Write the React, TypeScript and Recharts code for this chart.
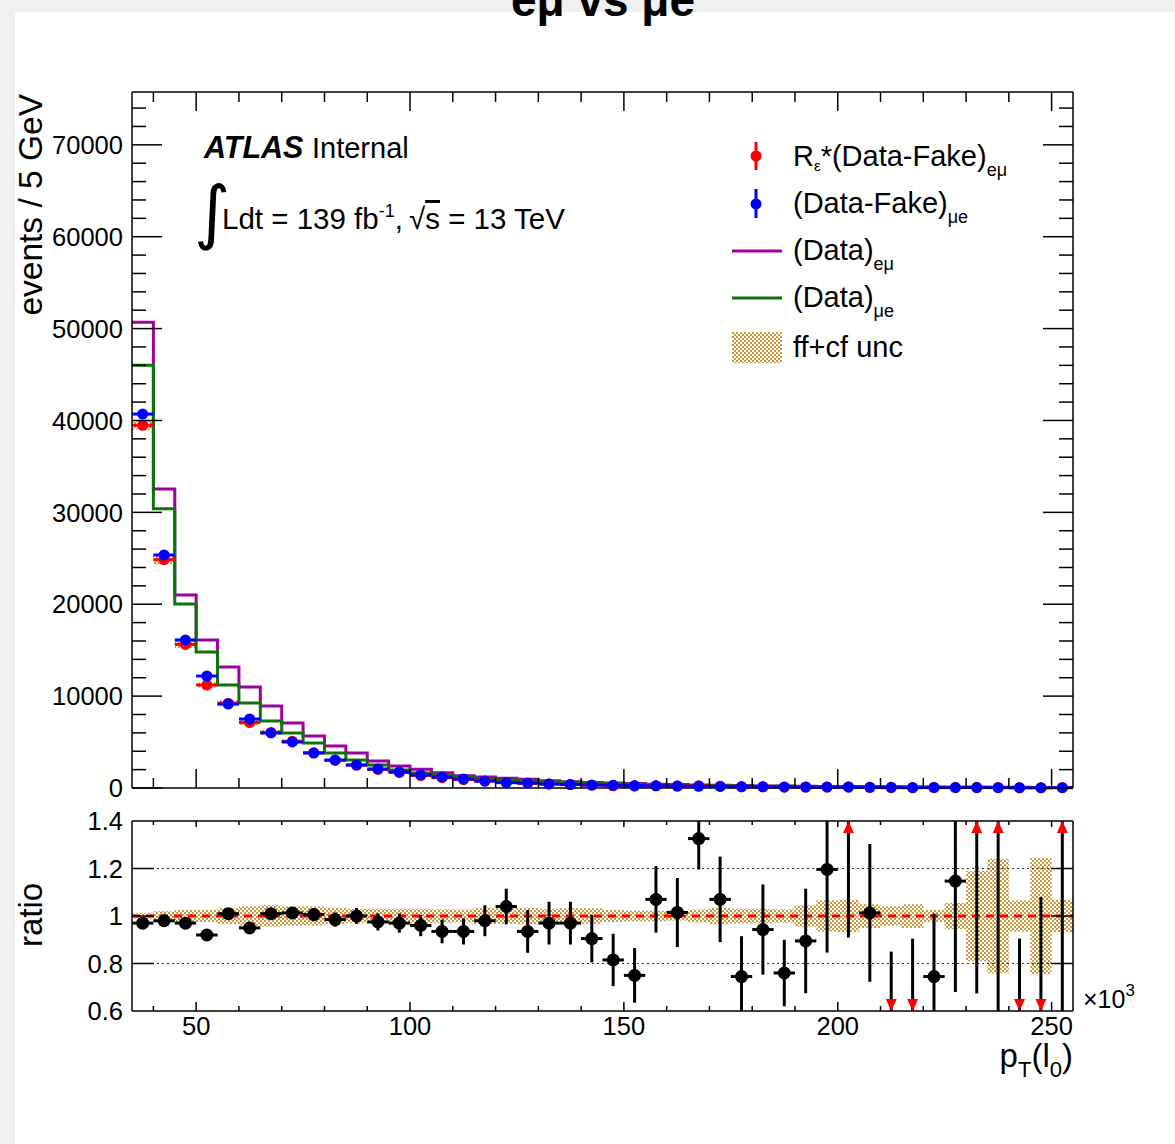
import React from "react";
import { ComposedChart, Line, Scatter, Area, XAxis, YAxis, ErrorBar, ReferenceLine } from "recharts";

// bin low edges (GeV), 5 GeV bins
const binLow = [35, 40, 45, 50, 55, 60, 65, 70, 75, 80, 85, 90, 95, 100, 105, 110, 115, 120, 125, 130, 135, 140,
  145, 150, 155, 160, 165, 170, 175, 180, 185, 190, 195, 200, 205, 210, 215, 220, 225, 230, 235, 240, 245, 250];
const BIN_W = 5;

// (Data)_emu  - purple histogram
const dataEmu = [50700, 32550, 21000, 16100, 13170, 11000, 8930, 7080, 5660, 4570,
  3810, 2940, 2400, 2030, 1670, 1340, 1200, 1050, 950, 800,
  690, 600, 540, 480, 420, 370, 330, 290, 260, 230,
  210, 190, 170, 155, 140, 125, 115, 105, 95, 88,
  80, 73, 67, 62];
// (Data)_mue - green histogram
const dataMue = [46000, 30400, 20030, 14800, 11200, 9250, 7290, 5990, 4900, 3810,
  3050, 2500, 1960, 1630, 1420, 1150, 1000, 880, 780, 680,
  590, 520, 460, 410, 360, 320, 285, 255, 225, 200,
  180, 160, 145, 130, 118, 106, 96, 87, 79, 72,
  65, 59, 54, 49];
// R_e*(Data-Fake)_emu - red points
const scaledEmu = [39480, 24850, 15630, 11210, 9230, 7130, 6050, 5080, 3830, 3000,
  2500, 2020, 1690, 1360, 1120, 920, 745, 600, 505, 427,
  369, 299, 245, 203, 257, 218, 252, 182, 112, 127,
  91, 97, 115, 142, 78, 31, 28, 42, 57, 72,
  68, 16, 16, 49];
// (Data-Fake)_mue - blue points
const subtrMue = [40700, 25360, 16110, 12190, 9140, 7510, 5990, 5010, 3810, 3050,
  2500, 2070, 1740, 1420, 1200, 980, 760, 580, 540, 440,
  380, 330, 300, 270, 240, 215, 190, 170, 150, 135,
  120, 108, 96, 86, 77, 69, 62, 56, 50, 45,
  40, 36, 32, 29];
// ratio panel
const ratio = [0.97, 0.98, 0.97, 0.92, 1.01, 0.95, 1.01, 1.013, 1.006, 0.985,
  1.0, 0.975, 0.97, 0.96, 0.935, 0.935, 0.98, 1.04, 0.935, 0.97,
  0.97, 0.905, 0.815, 0.75, 1.07, 1.015, 1.326, 1.07, 0.745, 0.943,
  0.76, 0.895, 1.196, 1.65, 1.013, 0.45, 0.45, 0.745, 1.147, 1.6,
  1.7, 0.45, 0.5, 1.7];
const ratioErr = [0.01, 0.012, 0.014, 0.016, 0.018, 0.02, 0.022, 0.025, 0.028, 0.03,
  0.033, 0.036, 0.04, 0.045, 0.05, 0.055, 0.065, 0.075, 0.09, 0.09,
  0.09, 0.1, 0.11, 0.115, 0.14, 0.145, 0.13, 0.18, 0.17, 0.19,
  0.14, 0.22, 0.35, 0.74, 0.29, 0.4, 0.455, 0.265, 0.467, 0.926,
  1.2, 0.455, 0.58, 1.2];
// ff+cf relative uncertainty
const uncRel = [0.012, 0.02, 0.025, 0.025, 0.035, 0.04, 0.045, 0.04, 0.04, 0.035,
  0.03, 0.03, 0.03, 0.03, 0.028, 0.027, 0.035, 0.033, 0.035, 0.03,
  0.033, 0.033, 0.025, 0.022, 0.022, 0.02, 0.027, 0.035, 0.03, 0.03,
  0.028, 0.045, 0.065, 0.068, 0.05, 0.04, 0.05, 0.025, 0.055, 0.19,
  0.24, 0.065, 0.245, 0.068];

const xTicks = [40, 50, 60, 70, 80, 90, 100, 110, 120, 130, 140, 150, 160, 170, 180, 190, 200, 210, 220, 230, 240, 250];
const yTicks = [0, 2000, 4000, 6000, 8000, 10000, 12000, 14000, 16000, 18000, 20000, 22000, 24000, 26000, 28000,
  30000, 32000, 34000, 36000, 38000, 40000, 42000, 44000, 46000, 48000, 50000, 52000, 54000, 56000, 58000,
  60000, 62000, 64000, 66000, 68000, 70000, 72000, 74000];
const ratioTicks = [0.6, 0.8, 1, 1.2, 1.4];

const X_DOM: [number, number] = [35, 255];
const Y_DOM: [number, number] = [0, 75750];
const R_DOM: [number, number] = [0.6, 1.4];

const FONT = '"Liberation Sans", Arial, Helvetica, sans-serif';
const PURPLE = "#a000a0";
const GREEN = "#0d730d";
const GOLD = "#cc9a3c";

// frame geometry (page pixels)
const PAD_L = 132;
const PAD_R = 1073;
const W = 1175;
const RATIO_TOP = 800;
const RATIO_H = 344;
const RATIO_MARGIN = { top: 20, right: W - PAD_R - 1, bottom: 103, left: 32 };

// histogram step rows on bin edges (last edge repeats last bin)
const steps = (vals: number[]) => [
  ...binLow.map((x, i) => ({ x, y: vals[i] })),
  { x: binLow[binLow.length - 1] + BIN_W, y: vals[vals.length - 1] },
];
const bandRows = (center: number[]) => {
  const n = binLow.length - 1;
  return [
    ...binLow.map((x, i) => ({ x, band: [center[i] * (1 - uncRel[i]), center[i] * (1 + uncRel[i])] })),
    { x: binLow[n] + BIN_W, band: [center[n] * (1 - uncRel[n]), center[n] * (1 + uncRel[n])] },
  ];
};
const points = (vals: number[]) => binLow.map((x, i) => ({ x: x + BIN_W / 2, y: vals[i], xe: BIN_W / 2 }));

const purpleSteps = steps(dataEmu);
const greenSteps = steps(dataMue);
const redPts = points(scaledEmu);
const bluePts = points(subtrMue);
const upperBand = bandRows(scaledEmu);
const ratioBand = bandRows(ratio.map(() => 1));
const ratioPts = binLow.map((x, i) => ({ x: x + BIN_W / 2, y: ratio[i], xe: BIN_W / 2, ye: ratioErr[i] }));
const upArrows = ratioPts.filter((p) => p.y > R_DOM[1]).map((p) => ({ x: p.x, y: R_DOM[1] }));
const downArrows = ratioPts.filter((p) => p.y < R_DOM[0]).map((p) => ({ x: p.x, y: R_DOM[0] }));

type Side = "bottom" | "top" | "left" | "right";
const mkTick = (side: Side, isMajor: (v: number) => boolean, major: number, minor: number, label?: (v: number) => string) =>
  (p: any) => {
    const { x, y, payload } = p;
    const v = payload.value;
    const len = isMajor(v) ? major : minor;
    let x2 = x, y2 = y;
    if (side === "bottom") y2 = y - len;
    else if (side === "top") y2 = y + len;
    else if (side === "left") x2 = x + len;
    else x2 = x - len;
    const lab = label ? label(v) : "";
    return (
      <g>
        {len > 0 && <line x1={x} y1={y} x2={x2} y2={y2} stroke="#000" strokeWidth={1.5} />}
        {lab && side === "bottom" && (
          <text x={x} y={y + 24} textAnchor="middle" fontSize={25.5} fontFamily={FONT} fill="#000">{lab}</text>
        )}
        {lab && side === "left" && (
          <text x={x - 9} y={y} dy="0.36em" textAnchor="end" fontSize={25.5} fontFamily={FONT} fill="#000">{lab}</text>
        )}
      </g>
    );
  };

const near = (a: number, b: number) => Math.abs(a - b) < 1e-6;
const isMajorX = (v: number) => v % 50 === 0;

const dot = (color: string, r: number) => (p: any) => <circle cx={p.cx} cy={p.cy} r={r} fill={color} />;
const arrow = (up: boolean) => (p: any) => {
  const { cx, cy } = p;
  const d = up ? 12 : -12;
  return <polygon points={`${cx},${cy} ${cx - 5.5},${cy + d} ${cx + 5.5},${cy + d}`} fill="#ff0000" />;
};

const UncPattern = ({ id }: { id: string }) => (
  <pattern id={id} width={4} height={4} patternUnits="userSpaceOnUse">
    <rect x={0} y={0} width={2} height={2} fill={GOLD} />
    <rect x={2} y={2} width={2} height={2} fill={GOLD} />
  </pattern>
);

const axisLine = { stroke: "#000", strokeWidth: 1.5 };

function UpperPad() {
  return (
    <ComposedChart width={W} height={830} margin={{ top: 91, right: W - PAD_R - 1, bottom: 12, left: 32 }}>
      <defs>
        <UncPattern id="uncUpper" />
      </defs>
      <XAxis dataKey="x" type="number" domain={X_DOM} ticks={xTicks} interval={0} height={30}
        tickSize={0} tickMargin={0} axisLine={axisLine} tick={mkTick("bottom", isMajorX, 19, 10)} />
      <XAxis xAxisId="t" orientation="top" dataKey="x" type="number" domain={X_DOM} ticks={xTicks} interval={0} height={1}
        tickSize={0} tickMargin={0} axisLine={axisLine} tick={mkTick("top", isMajorX, 19, 10)} />
      <YAxis dataKey="y" type="number" domain={Y_DOM} ticks={yTicks} interval={0} width={100}
        tickSize={0} tickMargin={0} axisLine={axisLine}
        tick={mkTick("left", (v) => v % 10000 === 0, 30, 14, (v) => (v % 10000 === 0 ? String(v) : ""))} />
      <YAxis yAxisId="r" orientation="right" dataKey="y" type="number" domain={Y_DOM} ticks={yTicks} interval={0} width={1}
        tickSize={0} tickMargin={0} axisLine={axisLine} tick={mkTick("right", (v) => v % 10000 === 0, 30, 14)} />
      {/* invisible copy so the mirrored top/right axes get a scale */}
      <Line xAxisId="t" yAxisId="r" data={purpleSteps} dataKey="y" stroke="none" dot={false} activeDot={false} isAnimationActive={false} />
      <Area data={upperBand} dataKey="band" type="stepAfter" stroke="none" fill="url(#uncUpper)" fillOpacity={1} isAnimationActive={false} />
      <Line data={purpleSteps} dataKey="y" type="stepAfter" stroke={PURPLE} strokeWidth={3} dot={false} activeDot={false} isAnimationActive={false} />
      <Line data={greenSteps} dataKey="y" type="stepAfter" stroke={GREEN} strokeWidth={3} dot={false} activeDot={false} isAnimationActive={false} />
      <Scatter data={redPts} dataKey="y" shape={dot("#ff0000", 5.5)} isAnimationActive={false}>
        <ErrorBar dataKey="xe" direction="x" stroke="#ff0000" strokeWidth={3} width={0} />
      </Scatter>
      <Scatter data={bluePts} dataKey="y" shape={dot("#0000ff", 5.5)} isAnimationActive={false}>
        <ErrorBar dataKey="xe" direction="x" stroke="#0000ff" strokeWidth={3} width={0} />
      </Scatter>
    </ComposedChart>
  );
}

function RatioPad() {
  const isMajorR = (v: number) => !near(v, R_DOM[0]) && !near(v, R_DOM[1]);
  const plotTop = RATIO_MARGIN.top + 1;
  const plotH = RATIO_H - RATIO_MARGIN.bottom - 30 - plotTop;
  return (
    <ComposedChart width={W} height={RATIO_H} margin={RATIO_MARGIN}>
      <defs>
        <UncPattern id="uncRatio" />
        <clipPath id="ratioPlotClip">
          <rect x={PAD_L} y={plotTop} width={PAD_R - PAD_L} height={plotH} />
        </clipPath>
      </defs>
      <XAxis dataKey="x" type="number" domain={X_DOM} ticks={xTicks} interval={0} height={30}
        tickSize={0} tickMargin={0} axisLine={axisLine}
        tick={mkTick("bottom", isMajorX, 9, 5, (v) => (v % 50 === 0 ? String(v) : ""))} />
      <XAxis xAxisId="t" orientation="top" dataKey="x" type="number" domain={X_DOM} ticks={xTicks} interval={0} height={1}
        tickSize={0} tickMargin={0} axisLine={axisLine} tick={mkTick("top", isMajorX, 6, 4)} />
      <YAxis dataKey="y" type="number" domain={R_DOM} allowDataOverflow ticks={ratioTicks} interval={0} width={100}
        tickSize={0} tickMargin={0} axisLine={axisLine} tick={mkTick("left", isMajorR, 22, 0, (v) => String(v))} />
      <YAxis yAxisId="r" orientation="right" dataKey="y" type="number" domain={R_DOM} allowDataOverflow ticks={ratioTicks} interval={0} width={1}
        tickSize={0} tickMargin={0} axisLine={axisLine} tick={mkTick("right", isMajorR, 22, 0)} />
      <Line xAxisId="t" yAxisId="r" data={ratioPts} dataKey="y" stroke="none" dot={false} activeDot={false} isAnimationActive={false} />
      <Area data={ratioBand} dataKey="band" type="stepAfter" stroke="none" fill="url(#uncRatio)" fillOpacity={1} isAnimationActive={false} />
      <ReferenceLine y={1.2} stroke="#333" strokeWidth={1.2} strokeDasharray="2 3" />
      <ReferenceLine y={0.8} stroke="#333" strokeWidth={1.2} strokeDasharray="2 3" />
      <ReferenceLine y={1} stroke="#ff0000" strokeWidth={3} strokeDasharray="8 6" />
      <Scatter data={ratioPts} dataKey="y" shape={dot("#000", 6.5)} isAnimationActive={false}>
        <ErrorBar dataKey="xe" direction="x" stroke="#000" strokeWidth={3} width={0} />
        <ErrorBar dataKey="ye" direction="y" stroke="#000" strokeWidth={3} width={0} />
      </Scatter>
      <Scatter data={upArrows} dataKey="y" shape={arrow(true)} isAnimationActive={false} />
      <Scatter data={downArrows} dataKey="y" shape={arrow(false)} isAnimationActive={false} />
    </ComposedChart>
  );
}

const clipCss = `
.ratio-pad .recharts-scatter,
.ratio-pad .recharts-errorBars,
.ratio-pad .recharts-errorBar { clip-path: url(#ratioPlotClip); }
`;

function Labels() {
  return (
    <svg width={W} height={1144} style={{ position: "absolute", left: 0, top: 0, pointerEvents: "none" }} fontFamily={FONT}>
      <defs>
        <UncPattern id="uncLegend" />
      </defs>
      <text x={603} y={16} textAnchor="middle" fontSize={46} fontWeight="bold">eμ vs μe</text>
      <text transform="translate(42,94) rotate(-90)" textAnchor="end" fontSize={33.5}>events / 5 GeV</text>
      <text transform="translate(42,915) rotate(-90)" textAnchor="middle" fontSize={33}>ratio</text>

      <text x={204} y={158} fontSize={29}>
        <tspan fontWeight="bold" fontStyle="italic" fontSize={30.5}>ATLAS</tspan>
        <tspan x={312}>Internal</tspan>
      </text>
      <text x={194} y={236} fontSize={70} fontFamily='"DejaVu Sans", sans-serif'>∫</text>
      <text x={222} y={229} fontSize={29.5}>
        Ldt = 139 fb<tspan dy={-12} fontSize={18}>-1</tspan><tspan dy={12}>,</tspan>
      </text>
      <text x={409} y={229} fontSize={29.5}>
        √<tspan style={{ textDecoration: "overline" }}>s</tspan> = 13 TeV
      </text>

      {/* legend */}
      <line x1={756} y1={142} x2={756} y2={170} stroke="#ff0000" strokeWidth={3} />
      <circle cx={756} cy={156} r={5.5} fill="#ff0000" />
      <text x={793} y={166} fontSize={29}>
        R<tspan fontSize={15} dy={5}>ε</tspan><tspan dy={-5}>*(Data-Fake)</tspan><tspan fontSize={18} dy={10}>eμ</tspan>
      </text>
      <line x1={756} y1={189} x2={756} y2={218} stroke="#0000ff" strokeWidth={3} />
      <circle cx={756} cy={204} r={5.5} fill="#0000ff" />
      <text x={793} y={213} fontSize={29}>
        (Data-Fake)<tspan fontSize={18} dy={10}>μe</tspan>
      </text>
      <line x1={732} y1={251} x2={782} y2={251} stroke={PURPLE} strokeWidth={3} />
      <text x={793} y={260} fontSize={29}>
        (Data)<tspan fontSize={18} dy={10}>eμ</tspan>
      </text>
      <line x1={732} y1={298} x2={782} y2={298} stroke={GREEN} strokeWidth={3} />
      <text x={793} y={307} fontSize={29}>
        (Data)<tspan fontSize={18} dy={10}>μe</tspan>
      </text>
      <rect x={732} y={332} width={50} height={31} fill="url(#uncLegend)" />
      <text x={793} y={357} fontSize={29}>ff+cf unc</text>

      {/* x axis title */}
      <text x={1083} y={1008} fontSize={25}>
        ×10<tspan dy={-12} fontSize={17}>3</tspan>
      </text>
      <text x={1073} y={1067} textAnchor="end" fontSize={33}>
        p<tspan fontSize={22} dy={10}>T</tspan><tspan dy={-10}>(l</tspan><tspan fontSize={22} dy={10}>0</tspan><tspan dy={-10}>)</tspan>
      </text>
    </svg>
  );
}

export default function App() {
  return (
    <div style={{ position: "absolute", left: 0, top: 0, width: W, height: 1144, background: "#f0f0f0", overflow: "hidden", fontFamily: FONT }}>
      <style>{clipCss}</style>
      <div style={{ position: "absolute", left: 15, top: 12, width: W - 15, height: 1132, background: "#fff" }} />
      <div style={{ position: "absolute", left: 0, top: 0 }}>
        <UpperPad />
      </div>
      <div className="ratio-pad" style={{ position: "absolute", left: 0, top: RATIO_TOP }}>
        <RatioPad />
      </div>
      <Labels />
    </div>
  );
}
